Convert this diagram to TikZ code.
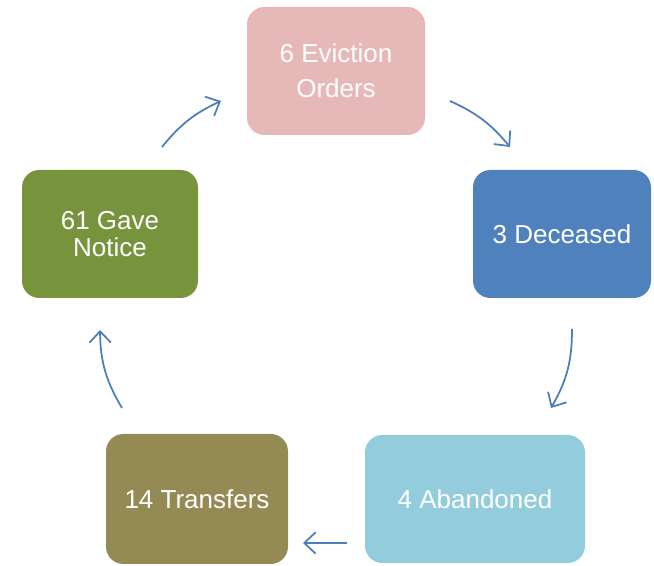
\documentclass[tikz,border=0pt]{standalone}
\usepackage{fontspec}
\setmainfont{Liberation Sans}
\usepackage{tikz}
\usetikzlibrary{arrows.meta, positioning}
\definecolor{stagepink}{RGB}{230,185,184}
\definecolor{stageblue}{RGB}{79,129,189}
\definecolor{stagecyan}{RGB}{147,205,221}
\definecolor{stageolive}{RGB}{148,138,84}
\definecolor{stagegreen}{RGB}{119,147,60}
\definecolor{cyclearrow}{RGB}{74,126,187}
\tikzstyle{stage} = [rectangle, rounded corners=13pt, minimum width=133.5pt, minimum height=96pt, text centered, align=center, text=white, inner sep=0pt, font=\fontsize{19.5}{20.5}\selectfont]
\tikzstyle{cycle} = [line width=1.3pt, draw=cyclearrow, -{Straight Barb[length=8.5pt, width=16pt, line width=1.3pt]}]

\begin{document}
\begin{tikzpicture}[x=0.75pt, y=0.75pt]
\useasboundingbox (0,0) rectangle (654,566);

\node (orders) [stage, fill=stagepink] at (336,495) {6 Eviction\\[6pt]Orders};
\node (deceased) [stage, fill=stageblue] at (562,332) {3 Deceased};
\node (abandoned) [stage, fill=stagecyan, minimum width=165pt] at (475,67) {4 Abandoned};
\node (transfers) [stage, fill=stageolive, minimum width=136.5pt, minimum height=97.5pt] at (197,67) {14 Transfers};
\node (notice) [stage, fill=stagegreen, minimum width=132pt] at (110,332) {61 Gave\\Notice};

% arrow ends between the boxes
\coordinate (o2d) at (450,465);  \coordinate (d2o) at (510,419);
\coordinate (d2a) at (572,237);  \coordinate (a2d) at (551,158);
\coordinate (a2t) at (347,23);   \coordinate (t2a) at (303,23);
\coordinate (t2n) at (122,158);  \coordinate (n2t) at (100,236);
\coordinate (n2o) at (162,419);  \coordinate (o2n) at (221,465);

\draw [cycle] (o2d) to[bend left=13] (d2o);
\draw [cycle] (d2a) to[bend left=15] (a2d);
\draw [cycle] (a2t) -- (t2a);
\draw [cycle] (t2n) to[bend left=15] (n2t);
\draw [cycle] (n2o) to[bend left=13] (o2n);

\end{tikzpicture}
\end{document}
